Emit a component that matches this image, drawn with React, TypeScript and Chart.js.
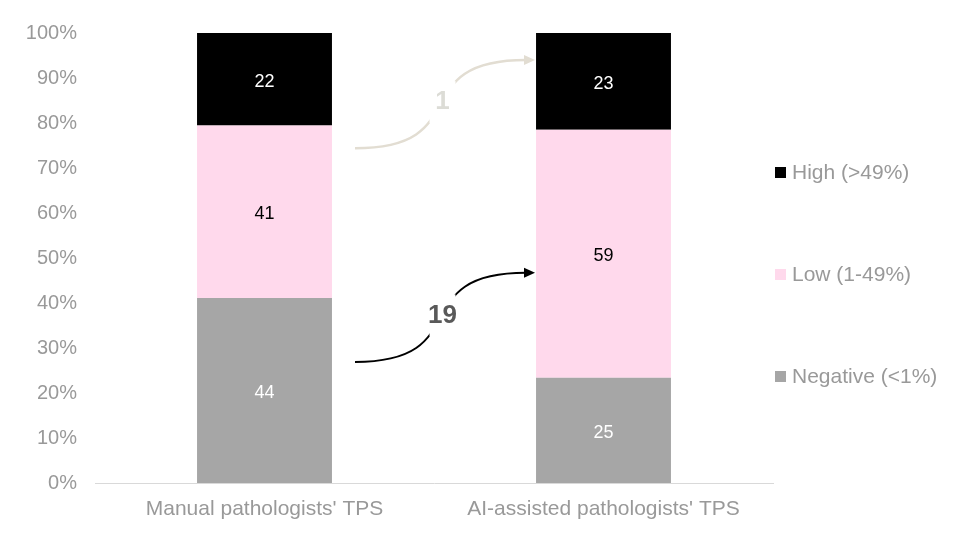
import { useEffect, useRef } from 'react';
import { Chart, registerables } from 'chart.js';

Chart.register(...registerables);

const categories = ["Manual pathologists' TPS", "AI-assisted pathologists' TPS"];
const negativeCounts = [44, 25];
const lowCounts = [41, 59];
const highCounts = [22, 23];
const seriesNames = ['Negative (<1%)', 'Low (1-49%)', 'High (>49%)'];
const seriesColors = ['#A6A6A6', '#FFD9EC', '#000000'];
const labelColors = ['#FFFFFF', '#000000', '#FFFFFF'];
const yTickValues = [0, 10, 20, 30, 40, 50, 60, 70, 80, 90, 100];

// transition arrows: labels and endpoints (percent)
const arrowLabels = ['1', '19'];
const arrowStartPct = [74.4, 26.9];
const arrowEndPct = [94.0, 46.7];

const FONT = "'Liberation Sans', Arial, sans-serif";
const TEXT_GRAY = '#999999';

const totals = categories.map((_, i) => negativeCounts[i] + lowCounts[i] + highCounts[i]);
const toPct = (arr: number[]) => arr.map((v, i) => (v / totals[i]) * 100);
const countSeries = [negativeCounts, lowCounts, highCounts];

const ARROW_STYLE = [
  { color: '#E2DDD2', width: 2.5, textColor: '#DCDCD6' },
  { color: '#000000', width: 2, textColor: '#595959' },
];
const ARROW_X0 = 0.267;
const ARROW_X1 = 0.798;

const valueLabelPlugin = {
  id: 'valueLabels',
  afterDatasetsDraw(chart: any) {
    const ctx = chart.ctx;
    ctx.save();
    ctx.font = `18px ${FONT}`;
    ctx.textAlign = 'center';
    ctx.textBaseline = 'middle';
    chart.data.datasets.forEach((ds: any, di: number) => {
      const meta = chart.getDatasetMeta(di);
      meta.data.forEach((bar: any, i: number) => {
        ctx.fillStyle = labelColors[di];
        ctx.fillText(String(countSeries[di][i]), bar.x, (bar.y + bar.base) / 2 + 2.5);
      });
    });
    ctx.restore();
  },
};

const arrowPlugin = {
  id: 'arrows',
  afterDatasetsDraw(chart: any) {
    const ctx = chart.ctx;
    const xs = chart.scales.x;
    const ys = chart.scales.y;
    arrowLabels.forEach((label, k) => {
      const st = ARROW_STYLE[k];
      const x0 = xs.getPixelForValue(ARROW_X0);
      const x1 = xs.getPixelForValue(ARROW_X1);
      const y0 = ys.getPixelForValue(arrowStartPct[k]);
      const y1 = ys.getPixelForValue(arrowEndPct[k]);
      const dx = x1 - x0;
      const a = dx * 0.68;
      const headLen = 11;
      const xe = x1 - headLen + 2;
      ctx.save();
      ctx.strokeStyle = st.color;
      ctx.lineWidth = st.width;
      ctx.beginPath();
      ctx.moveTo(x0, y0);
      ctx.bezierCurveTo(x0 + a, y0, xe - a, y1, xe, y1);
      ctx.stroke();
      // arrow head
      ctx.fillStyle = st.color;
      ctx.beginPath();
      ctx.moveTo(x1, y1);
      ctx.lineTo(x1 - headLen, y1 - 5);
      ctx.lineTo(x1 - headLen, y1 + 5);
      ctx.closePath();
      ctx.fill();
      // label with gap
      const mx = (x0 + xe) / 2 + 2;
      const my = (y0 + y1) / 2 - 2;
      ctx.fillStyle = '#FFFFFF';
      ctx.fillRect(mx - 13, my - 21, 26, 42);
      ctx.font = `bold 26px ${FONT}`;
      ctx.textAlign = 'center';
      ctx.textBaseline = 'middle';
      ctx.fillStyle = st.textColor;
      ctx.fillText(label, mx, my);
      ctx.restore();
    });
  },
};

const legendPlugin = {
  id: 'customLegend',
  afterDraw(chart: any) {
    const ctx = chart.ctx;
    const area = chart.chartArea;
    const offsets = [343, 241, 139];
    ctx.save();
    ctx.font = `21px ${FONT}`;
    ctx.textAlign = 'left';
    ctx.textBaseline = 'middle';
    [2, 1, 0].forEach((di) => {
      const y = area.top + offsets[di];
      const x = area.right + 2;
      ctx.fillStyle = seriesColors[di];
      ctx.fillRect(x, y - 5, 11, 11);
      ctx.fillStyle = TEXT_GRAY;
      ctx.fillText(seriesNames[di], x + 17, y + 1);
    });
    ctx.restore();
  },
};

export default function App() {
  const ref = useRef<HTMLCanvasElement | null>(null);
  useEffect(() => {
    if (!ref.current) return;
    const chart = new Chart(ref.current, {
      type: 'bar',
      data: {
        labels: categories,
        datasets: countSeries.map((counts, di) => ({
          label: seriesNames[di],
          data: toPct(counts),
          backgroundColor: seriesColors[di],
          borderWidth: 0,
          categoryPercentage: 1,
          barPercentage: 0.398,
        })),
      },
      options: {
        animation: false,
        responsive: true,
        maintainAspectRatio: false,
        layout: { padding: { left: 0, top: 25, right: 183, bottom: 0 } },
        plugins: {
          legend: { display: false },
          tooltip: { enabled: false },
        },
        scales: {
          x: {
            stacked: true,
            grid: { display: false },
            border: { display: true, color: '#D9D9D9', width: 1 },
            ticks: { color: TEXT_GRAY, font: { family: FONT, size: 21 }, padding: 6 },
            afterFit: (s: any) => { s.height = 54; },
          },
          y: {
            stacked: true,
            min: 0,
            max: 100,
            grid: { display: false },
            border: { display: false },
            afterBuildTicks: (s: any) => { s.ticks = yTickValues.map((v) => ({ value: v })); },
            ticks: {
              color: TEXT_GRAY,
              font: { family: FONT, size: 20 },
              padding: 10,
              callback: (v: any) => `${v}%`,
            },
            afterFit: (s: any) => { s.width = 87; },
          },
        },
      },
      plugins: [valueLabelPlugin, arrowPlugin, legendPlugin],
    });
    return () => chart.destroy();
  }, []);
  return (
    <div style={{ position: 'relative', width: 948, height: 529 }}>
      <canvas ref={ref} />
    </div>
  );
}
